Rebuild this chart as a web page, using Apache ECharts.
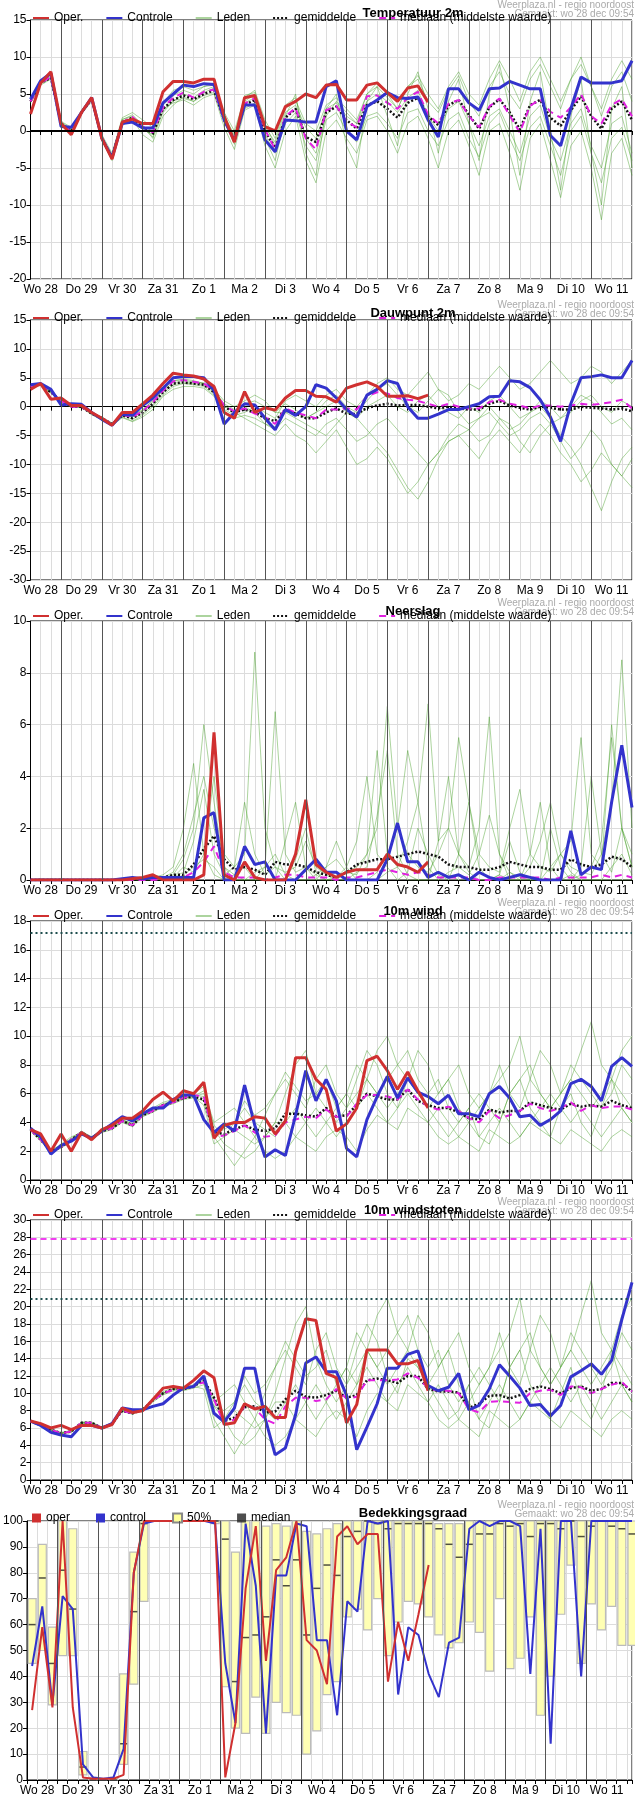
<!DOCTYPE html>
<html>
<head>
<meta charset="utf-8">
<script src="https://cdn.jsdelivr.net/npm/echarts@6/dist/echarts.min.js"></script>
<style>
  body { margin: 0; background: #fff; }
  .panel { position: absolute; left: 0; width: 635px; height: 300px; }
</style>
</head>
<body>
<div id="p1" class="panel" style="top:0px"></div>
<div id="p2" class="panel" style="top:300px"></div>
<div id="p3" class="panel" style="top:598px"></div>
<div id="p4" class="panel" style="top:898px"></div>
<div id="p5" class="panel" style="top:1197px"></div>
<div id="p6" class="panel" style="top:1500px"></div>
<script>
// tijd: uren vanaf wo 28 dec 00:00, elke 6 uur
let dayNames = ['Wo 28', 'Do 29', 'Vr 30', 'Za 31', 'Zo 1', 'Ma 2', 'Di 3', 'Wo 4', 'Do 5', 'Vr 6', 'Za 7', 'Zo 8', 'Ma 9', 'Di 10', 'Wo 11']

// temperatuur 2m
let tOper = [2.3,6.5,8.0,1.0,-0.5,2.5,4.5,-1.0,-3.8,1.2,1.6,1.0,1.0,5.3,6.7,6.7,6.5,7.0,7.0,2.0,-1.5,4.5,4.8,0.6,0.0,3.3,4.0,5.0,4.5,6.2,6.3,4.2,4.2,6.2,6.5,5.2,4.0,5.8,6.1,3.9]
let tCtrl = [4.3,6.8,7.8,0.6,0.5,2.5,4.5,-1.0,-3.6,1.0,1.2,0.4,0.4,3.8,5.0,6.2,6.0,6.4,6.3,1.5,-1.3,3.5,3.5,-1.2,-2.8,1.5,1.4,1.2,1.2,6.0,6.8,0.0,-1.2,3.3,4.2,5.2,4.5,4.4,4.6,1.5,-0.8,5.7,5.7,3.8,2.8,5.7,5.8,6.7,6.2,5.7,5.7,-0.6,-2.0,3.0,7.3,6.5,6.5,6.5,6.8,9.5]
let tMean = [4,6.5,7.2,1,0,2.5,4.3,-1,-3.5,1.2,1.8,0.5,-0.3,3,4.2,4.8,4.3,5,5.5,1.5,-1.2,3.5,4.2,0,-2.3,1.8,3.0,-0.8,-1.5,2.5,3.3,1.5,0.3,3.5,4.0,3.0,1.8,3.8,4.5,2.0,0.8,3.5,4.2,2.2,0.3,3.2,4.3,2.5,0.2,3.5,4.2,1.8,0.7,2.8,4.7,2.0,0.3,3.0,4.0,1.5]
let tMed = [4,6.5,7.3,1,0,2.5,4.3,-1,-3.5,1.2,1.9,0.6,-0.2,3.2,4.5,5.2,4.5,5.3,5.6,1.4,-1.4,3.7,4.4,0.2,-2.5,2.0,3.1,-1.0,-2.5,2.8,3.4,1.3,0.5,4.7,4.8,3.8,3.0,4.5,5.3,2.2,1.0,3.7,4.2,2.0,0.5,3.3,4.4,2.1,-0.2,3.4,4.3,2.6,1.8,3.2,5.0,2.0,1.0,3.5,4.3,2.0]
let tLeden = [
  [4,6.8,7.5,1.2,0.3,2.8,4.6,-0.8,-3.4,1.5,2.2,0.8,-1,2.5,4,5,4.5,5.5,6,2,-0.5,4,5,-1,-4,2,5,-3,-6,3,5,-2,-5,4,6,2,-2,5,8,3,-3,4,7,1,-4,5,9,3,-6,4,8,0,-8,2,7,-3,-10,3,6,-5],
  [4.2,6.6,7.8,0.8,-0.2,2.4,4.4,-1.2,-3.8,0.8,1.5,0.2,-0.5,3.5,4.8,5.5,5,6,6.5,1.8,-1.5,3.8,4.5,0.5,-1.5,3,4.2,1,0,3.5,4.5,3,1.5,5,6.5,5,3,6,7,4,2.5,5.5,7.5,4,2,6,8,5,3,7,9,6,3,7,10,6,2,6,8,4],
  [3.8,6.2,7,1.3,0.5,2.6,4.2,-0.5,-3,1.8,2.5,1.5,0.5,3,3.8,4.2,3.5,4.5,5,0.5,-2.5,2.8,3.5,-2,-5,0,2,-4,-7,0,1.5,-1,-3,1.5,2,0,-3,1,2,-1,-5,0,1.5,-2,-6,0,1,-3,-8,-1,1,-4,-9,-2,0,-5,-12,-3,-1,-6],
  [4.1,6.9,7.3,1.1,0.2,2.5,4.5,-1,-3.6,1.3,1.6,-0.5,-1.5,2,3.5,4.6,4,5.2,5.8,2.5,0,4.5,5.5,1.5,-1,3.5,4.5,-1,-3,2,4,2.5,1,4,5,4,2.5,4.5,5.5,2,0,3,4,1,-2,2,3,0,-3,2,3.5,-1,-4,1,3,-2,-5,1,2,-3],
  [4,6.5,7.2,0.9,0,2.3,4,-1.3,-4,1,1.9,0.6,0,3.8,5.5,6,5.5,6,6.2,2.2,-0.8,4.8,5.2,1,-2,2.5,3.5,0.5,-1,3,3.8,2,1,5,6,4.5,3,6,7.5,5,3,6,8,5,3.5,7,9.5,7,4,8,10,7,4,7,9,6,3,7,9.5,7],
  [3.9,6.4,7.1,1,0.1,2.7,4.4,-0.9,-3.3,1.6,2,0.4,-0.8,2.8,4.1,4.4,4,4.8,5.2,1.2,-1.8,3,3.8,-0.5,-3,1,2.5,-2,-4,1.5,2.5,0,-1.5,2,2.5,1,-1,2.5,3,0,-2,1.5,2.5,-1,-3.5,1,2.5,-1,-4,0.5,2,-2,-6,0,2,-3,-7,-1,0.5,-4]
]

// dauwpunt 2m
let dOper = [3.0,4.0,1.3,1.5,0.2,0.2,-1.0,-2.0,-3.2,-1.0,-1.0,0.5,2.0,4.0,5.8,5.5,5.3,4.8,3.5,-1.0,-2.0,2.6,-1.0,-0.2,-0.6,1.5,2.8,2.8,1.8,1.7,0.8,3.2,3.8,4.3,3.5,1.8,1.8,1.9,1.4,2.0]
let dCtrl = [3.8,4.0,3.0,0.3,0.5,0.4,-1.0,-2.2,-3.2,-1.3,-1.5,0.2,1.5,3.2,5.0,5.2,5.2,5.0,2.8,-3.0,-1.0,0.5,0.3,-2.0,-4.0,-0.5,-1.5,0,3.8,3.2,1.5,-0.5,-1.8,2.0,3.0,4.5,4.0,0,-2.0,-2.0,-1.3,-0.5,-0.5,0,0.5,1.7,1.8,4.5,4.3,3.3,1.2,-1.8,-6.0,0.5,5.0,5.2,5.5,5.0,5.0,8.0]
let dMean = [3.5,3.8,2.5,1,0,0,-1.2,-2,-3,-1.5,-2,-1,0.5,2.5,4,4.2,4,3.8,2.5,0,-1,-0.5,-1,-2,-2.5,-0.5,-1.2,-2,-2,-1,-0.3,-1.2,-1.3,-0.2,0.2,0.5,0.2,0.3,0.3,0,-0.3,0,-0.3,-0.5,-0.5,0.5,1,0.2,-0.2,-0.5,0,-0.2,-0.5,-0.5,0,-0.2,-0.3,-0.5,-0.3,-0.8]
let dMed = [3.5,3.9,2.6,1,0,0,-1.1,-2,-3,-1.4,-1.8,-0.8,0.8,2.8,4.4,4.6,4.3,4,2.8,0.2,-0.8,-0.3,-1.2,-1.8,-3.0,-0.3,-1.0,-1.5,-2.0,-0.5,-0.5,-0.3,-0.5,1.8,2.5,2.3,1.5,1.2,1.0,0.5,0,0.5,0,-0.3,-0.3,0.8,1.2,0.5,0.2,-0.3,0.2,0.2,0,0.2,0.5,0.3,0.5,0.8,1.2,-0.3]
let dLeden = [
  [3.6,3.9,2.6,1.1,0.2,0.1,-1,-2,-3,-1.2,-1.5,-0.5,1,3,4.5,4.8,4.5,4,2.8,0.5,-0.5,0,-1,-3,-4,-2,-3,-4,-5,-3,-2,-4,-6,-5,-3,-2,-4,-6,-8,-10,-8,-5,-3,-4,-6,-5,-2,-3,-6,-8,-5,-3,-6,-9,-7,-4,-6,-10,-12,-9],
  [3.4,3.7,2.4,0.9,0,-0.2,-1.3,-2.2,-3.2,-1.8,-2.5,-1.5,0,2,3.5,4,3.8,3.5,2,-0.5,-1.5,-1,0,-1,-2,1,2,1,0,2,3,1,0,2,4,5,3,2,4,6,3,1,2,4,3,5,7,5,3,4,6,8,6,4,5,7,6,4,6,8],
  [3.5,3.8,2.5,1,0,0,-1.1,-2,-3,-1.4,-2.2,-1.2,0.3,2.4,3.8,4.1,4,3.8,2.4,0.2,-1,-2,-3,-4,-5,-3,-5,-6,-8,-6,-4,-7,-10,-9,-7,-9,-12,-15,-13,-10,-8,-6,-5,-7,-9,-6,-4,-6,-8,-5,-3,-5,-8,-10,-13,-11,-8,-10,-12,-14],
  [3.5,3.8,2.5,1,0,0,-1.2,-2,-3,-1.6,-1.8,-0.8,0.8,2.8,4.2,4.3,4.2,4,2.6,0,-0.8,0.5,1,0,-1,0.5,-0.5,-2,-1,0,1,-1,-2,0,1,2,0,-1,1,2,0,-1,-2,0,-1,1,2,0,-2,-1,1,0,-2,-1,1,2,0,-1,1,0],
  [3.6,3.9,2.7,1.2,0.3,0.2,-1,-1.8,-2.8,-1.3,-1.7,-0.6,1.2,3.2,4.5,4.6,4.3,4.1,3,1,0,1,2,1,-1,-1,-2,-3,-4,-5,-3,-1,-2,-4,-6,-8,-11,-14,-16,-13,-9,-6,-5,-4,-2,-1,-3,-5,-4,-2,-1,-3,-2,0,2,1,-1,-3,-2,-4],
  [3.4,3.7,2.3,0.8,-0.1,-0.1,-1.4,-2.3,-3.3,-1.9,-2.6,-1.8,-0.5,1.8,3,3.5,3.5,3.2,1.8,-0.8,-2,-1.5,-2,-3,-3.5,-1,-1,-2,-1,1,2,0,-1,1,3,4,2,0,-1,1,3,2,-1,-3,-2,0,-2,-4,-3,-1,0,-2,-5,-7,-10,-14,-18,-13,-9,-7]
]

// neerslag
let pOper = [0,0,0,0,0,0,0,0,0,0,0.05,0.1,0.2,0,0,0,0,0.2,5.7,0.2,0,0.7,0.1,0,0,0,1.0,3.1,0.6,0.3,0.1,0.3,0.4,0.4,0.4,1.0,0.6,0.5,0.3,0.7]
let pCtrl = [0,0,0,0,0,0,0,0,0,0.05,0.1,0.05,0.1,0.1,0.1,0.1,0.1,2.4,2.6,0,0,1.3,0.6,0.7,0,0,0,0.4,0.8,0.3,0.3,0,0,0,0,0.8,2.2,0.7,0.7,0.1,0.3,0.1,0.2,0,0.3,0.1,0,0.1,0.2,0.1,0,0,0,1.9,0.2,0.5,0.4,3.0,5.2,2.8]
let pMean = [0,0,0,0,0,0,0,0,0,0,0,0.05,0.1,0.1,0.2,0.2,0.6,1.2,1.7,0.8,0.4,0.5,0.4,0.2,0.7,0.6,0.6,0.5,0.3,0.2,0.1,0.3,0.6,0.7,0.8,0.8,0.9,1.0,1.1,1.0,0.9,0.6,0.5,0.5,0.4,0.4,0.5,0.7,0.6,0.5,0.5,0.4,0.4,0.8,0.6,0.5,0.6,0.9,0.8,0.5]
let pMed = [0,0,0,0,0,0,0,0,0,0,0,0,0,0.05,0.1,0.1,0.3,0.7,1.3,0.3,0.1,0.1,0.1,0,0.1,0.2,0.2,0.1,0.1,0.1,0,0.1,0.1,0.2,0.3,0.4,0.3,0.2,0.3,0.2,0.1,0.1,0.1,0.1,0,0,0.1,0.1,0.1,0.1,0.1,0,0.1,0.1,0.1,0.1,0.2,0.1,0.2,0.1]
let pLeden = [
  [0,0,0.05,0,0,0,0,0,0,0,0.05,0.1,0.2,0.1,0.1,0.3,1.5,3.5,1,0.2,0.5,3,1,0.2,0.5,0,0.8,2,0.3,0,0.1,0.5,1.5,4,1,0.5,0,0.3,2,1,0.2,0,1,3,0.5,0,0.2,1.5,0.3,0,0,2,0.5,0,0.5,4,1,0.3,2,0.5],
  [0,0.05,0,0,0,0,0,0,0,0,0,0.1,0.1,0.2,0.5,2,4.5,1,0.2,0,0.2,0.5,0,0,0,1.5,3,0.5,0,0,0,0,0.3,0.5,2.5,5,1,0.2,0,0,1.5,4,1,0.3,0,0,0.2,0,0,1,3,0.5,0,0,0.2,0.5,1.5,5.5,2,0.5],
  [0,0,0,0,0,0,0,0,0,0,0,0,0,0.1,0.2,0.8,2,6,3,0.5,0,0,0,0.5,1,0.2,0,0,0,0.5,1.5,0.5,0,0,0.3,1,2,5,3,0.5,0,0.3,0.5,0.2,1,2.5,1,0,0,0,0,0.5,1,0.3,0,0,0,0.5,1,0.2],
  [0,0,0,0,0,0,0,0,0,0,0,0,0,0,0,0.2,0.5,0.8,0.5,0,0,0,0,0,0,0,0,0,0.2,0,0,0,0,0,0,0.3,0.5,0,0,0,0,0.2,0,0,0,0,0,0.3,0.1,0,0,0,0,0.2,0,0,0,0,0,0],
  [0,0,0,0.05,0,0,0,0,0,0,0,0,0.05,0.1,0.3,1,2.5,4,2,1,0.5,1,8.8,2,0.5,0.3,0.5,1.5,0.5,0.2,0,0.3,0.5,1,2,6.7,2,1,0.5,0.3,1,2,1,0.5,2,6.3,1,0.3,0,0.5,1.5,3,1,0.5,0.3,0.2,1,3,8.5,2],
  [0,0,0,0,0,0,0,0,0,0,0,0,0.1,0,0.1,0.5,0.3,1,4,0.5,0.2,0,0.3,0.5,6.5,1,0.3,0.5,0.2,0.5,0.8,0.3,0.2,1,5,1,0.5,1.5,3,6.8,1.5,2,5.5,3,1,0.5,0.3,2,3.5,1,0.5,0.3,1,1.5,5.5,1,0.5,6,2,1]
]

// 10m wind
let wOper = [3.5,3.2,2.0,3.2,2.0,3.3,2.8,3.5,3.8,4.3,4.3,4.8,5.6,6.1,5.5,6.2,6.0,6.8,2.9,3.8,4.0,4.0,4.4,4.3,3.2,4.1,8.5,8.5,7.0,6.3,3.4,3.9,5.0,8.3,8.6,7.6,6.3,7.5,6.2,5.0]
let wCtrl = [3.6,3.0,1.8,2.4,2.7,3.2,2.9,3.4,3.9,4.4,4.1,4.6,5.0,5.0,5.6,5.9,5.9,4.2,3.3,3.9,3.4,6.6,3.8,1.6,2.1,1.7,4.5,7.6,5.5,7.0,5.5,2.2,1.6,4.2,5.8,7.2,5.7,7.1,6.1,5.8,5.3,5.9,4.6,4.6,4.4,6.0,6.5,5.7,4.4,4.5,3.8,4.2,4.8,6.7,7.0,6.5,5.5,7.9,8.5,7.9]
let wMean = [3.5,2.8,2.0,2.3,2.8,3.3,2.9,3.4,3.6,4.1,3.8,4.5,4.8,5.2,5.4,5.7,5.8,5.6,3.3,3.2,3.5,3.8,3.5,3.4,3.6,4.6,4.6,4.5,4.4,5.0,4.4,4.5,5.2,6.0,5.8,5.6,5.6,6.3,5.5,5.2,5.0,5.0,4.7,4.3,4.2,4.9,4.7,4.8,4.8,5.4,5.2,5.0,4.9,5.3,5.1,5.2,5.1,5.5,5.2,5.0]
let wMed = [3.5,2.8,2.0,2.3,2.8,3.3,2.9,3.4,3.6,4.1,3.8,4.5,4.8,5.2,5.4,5.7,5.9,5.8,3.0,3.1,3.4,3.8,3.3,3.0,3.1,4.0,4.2,4.4,4.3,4.9,4.4,4.4,5.3,5.9,5.9,5.8,5.6,6.3,5.6,5.1,4.9,5.1,4.8,4.3,4.0,4.8,4.3,4.5,4.8,5.3,5.0,4.8,5.0,5.4,4.8,5.2,5.0,5.1,5.1,4.9]
let wLeden = [
  [3.5,2.8,2,2.5,3,3.3,3,3.5,3.8,4.2,3.9,4.6,5,5.4,5.6,5.9,6,6.5,3.5,2.5,2,1.5,2,3,4,6,8,9,6,5,4,5,7,9,8,6,5,7,6,5,4,3,4,5,3,2.5,4,6,7,5,4,3,5,6,4,3,5,7,5,4],
  [3.4,2.7,1.9,2.2,2.7,3.2,2.8,3.3,3.5,4,3.7,4.4,4.7,5.1,5.3,5.6,5.7,5.5,3.2,3.5,4,5,4,3.5,3,4,5,4,3,4,5,6,5,7,6,5,6,7,6,5,6,7,5,4,5,6,7,8,10,7,6,5,6,8,7,6,5,6,8,7],
  [3.6,2.9,2.1,2.4,2.9,3.4,3,3.5,3.7,4.2,3.9,4.6,4.9,5.3,5.5,5.8,5.9,5.8,3,2,1,2,3,2,1.5,2,3,2.5,2,3,3.5,3,2,3.5,4.5,4,3.5,5,4.5,4,3,2.5,3,2.5,2,3.5,3,2.5,3,4,3.5,3,2.5,3.5,3,2.5,2,3,3.5,3],
  [3.5,2.8,2,2.3,2.8,3.3,2.9,3.4,3.6,4.1,3.8,4.5,4.8,5.2,5.4,5.7,5.8,6.2,4,4.5,5,4,3,4.5,6,7,6,5,7,8,6,5,6,7,9,10,8,7,9,8,6,7,8,6,5,6,8,6,5,7,9,8,6,7,9,11,8,7,9,10],
  [3.5,2.8,2,2.3,2.8,3.3,2.9,3.4,3.6,4.1,3.8,4.5,4.8,5.2,5.4,5.7,5.8,5.2,2.5,3,3.5,3,2.5,3,4,4,3,4,5,4,3,4,5,6,5,4,5,6,5,4,5,4,3,4,3,4,5,4,3,4,5,6,5,4,5,4,3,4,5,4],
  [3.5,2.8,2,2.3,2.8,3.3,2.9,3.4,3.6,4.1,3.8,4.5,4.8,5.2,5.4,5.7,5.8,6,3.8,3,4,5.5,4.5,5,6,7.5,6.5,5.5,6,7,5,6,8,7,6,7,8,9,7,6,7,5,4,5,6,5,4,6,7,8,6,5,6,7,6,5,6,7,6,5]
]

// 10m windstoten
let gOper = [6.8,6.5,6.0,6.3,5.8,6.3,6.3,6.0,6.4,8.3,7.8,8.0,9.3,10.6,10.8,10.6,11.5,12.6,11.8,6.4,6.6,8.8,8.2,8.5,7.2,7.2,14.8,18.6,18.4,12.3,11.8,6.6,8.7,15.0,15.0,15.0,13.4,13.4,13.8,10.3]
let gCtrl = [6.8,6.3,5.5,5.2,5.0,6.3,6.3,6.0,6.5,8.3,8.1,8.1,8.5,8.8,9.8,10.6,10.8,12.0,7.7,6.7,8.3,12.9,12.9,7.2,2.9,3.7,7.5,13.5,14.2,12.5,12.5,9.8,3.5,6.1,8.8,12.9,12.9,14.5,14.9,10.9,10.3,10.7,12.3,8.1,8.6,10.5,13.3,12.0,10.6,8.6,8.7,7.4,8.6,11.9,12.6,13.4,12.2,13.8,18.5,22.8]
let gMean = [6.8,6.3,5.8,5.4,5.6,6.6,6.6,6.0,6.5,8.0,7.7,8.1,9.2,10.0,10.5,10.5,10.8,11.5,9.5,6.8,7.2,8.4,8.5,7.8,7.9,9.3,10.3,9.6,9.5,9.8,10.3,9.5,9.8,11.5,11.7,11.5,11.2,12.0,12.0,10.5,10.2,10.2,10.1,8.3,8.8,9.7,9.8,9.4,9.8,10.5,10.8,10.5,10.0,10.6,10.8,10.3,10.5,11.2,11.2,10.2]
let gMed = [6.8,6.3,5.8,5.4,5.6,6.6,6.6,6.0,6.5,8.0,7.7,8.1,9.2,10.0,10.4,10.5,10.8,11.3,9.3,6.4,7.0,8.5,8.3,7.0,6.5,8.5,9.5,9.5,9.1,9.3,10.5,9.4,9.6,11.5,11.5,11.5,11.6,12.3,11.8,10.6,10.3,10.3,10.0,8.2,7.8,9.0,9.1,9.0,8.9,10.0,10.3,10.4,9.8,10.8,10.7,10.0,10.5,11.0,11.3,10.2]
let gLeden = [
  [6.8,6.3,5.8,5.4,5.6,6.6,6.6,6,6.5,8,7.7,8.1,9.2,10,10.5,10.5,10.8,11.5,9.5,7,5,4,5,7,10,14,18,20,14,11,9,11,15,18,16,12,10,14,13,11,9,7,8,11,7,6,9,13,15,11,9,7,10,13,9,7,10,15,11,9],
  [6.7,6.2,5.7,5.3,5.5,6.5,6.5,5.9,6.4,7.9,7.6,8,9,9.8,10.3,10.3,10.6,11,8.5,8,9,11,9,8,7,9,11,9,7,9,11,13,11,15,13,11,13,15,13,11,13,15,11,9,11,13,15,17,21,15,13,11,13,17,15,13,11,13,17,15],
  [6.9,6.4,5.9,5.5,5.7,6.7,6.7,6.1,6.6,8.1,7.8,8.2,9.3,10.2,10.7,10.7,11,11.2,7,5,3,5,7,5,4,5,7,6,5,7,8,7,5,8,10,9,8,11,10,9,7,6,7,6,5,8,7,6,7,9,8,7,6,8,7,6,5,7,8,7],
  [6.8,6.3,5.8,5.4,5.6,6.6,6.6,6,6.5,8,7.7,8.1,9.2,10,10.5,10.5,10.8,12,9,10,11,9,7,10,13,15,13,11,15,17,13,11,13,15,19,21,17,15,19,17,13,15,17,13,11,13,17,13,11,15,19,17,13,15,19,23,17,15,19,21],
  [6.8,6.3,5.8,5.4,5.6,6.6,6.6,6,6.5,8,7.7,8.1,9.2,10,10.5,10.5,10.8,10.5,6,7,8,7,6,7,9,9,7,9,11,9,7,9,11,13,11,9,11,13,11,9,11,9,7,9,7,9,11,9,7,9,11,13,11,9,11,9,7,9,11,9],
  [6.8,6.3,5.8,5.4,5.6,6.6,6.6,6,6.5,8,7.7,8.1,9.2,10,10.5,10.5,10.8,11.8,8.5,7,9,12,10,11,13,16,14,12,13,15,11,13,17,15,13,15,17,19,15,13,15,11,9,11,13,11,9,13,15,17,13,11,13,15,13,11,13,15,13,11]
]

// bedekkingsgraad (punten op 3, 9, 15 en 21 uur)
let cOper = [27,59,28,100,28,1,0.5,0.5,0.5,2,80,100,100,100,100,100,100,100,100,1,22,74,98,46,81,86,100,54,50,37,94,98,91,95,95,38,61,46,64,83]
let cCtrl = [44,67,29,71,66,6,1,0.5,1,12,80,99,100,100,100,100,100,100,99,45,22,99,75,18,79,79,99,98,54,54,25,69,65,100,99,100,33,59,56,41,32,53,55,97,100,98,100,100,98,41,97,14,100,100,40,100,100,100,100,100]
let cLow = [45,50,29,48,48,2,0,0,0,6,37,69,100,100,100,100,100,100,99,36,20,18,32,18,30,26,25,10,19,33,38,63,66,58,70,48,61,69,68,63,56,51,53,61,57,42,70,43,47,63,25,40,64,83,45,68,58,67,52,52]
let cHigh = [70,91,59,100,97,11,1,0,1,41,88,100,100,100,100,100,100,100,100,100,88,100,100,98,99,98,100,96,95,97,99,100,100,100,100,100,100,100,100,100,99,99,99,100,100,100,100,100,100,100,100,100,100,100,100,100,100,100,100,100]
let cMed = [60,78,45,81,66,5,0,0,0,14,65,99,100,100,100,100,100,100,100,93,38,55,56,63,85,75,85,56,74,83,79,94,96,100,99,97,99,99,99,99,97,91,86,91,95,95,99,98,99,94,99,99,97,100,94,98,100,98,97,95]

let green = 'rgba(70,160,40,0.45)'
let fontFam = 'Liberation Sans, Arial, sans-serif'

function toPairs(arr, start) {
  return arr.map((v, i) => [start + 6 * i, v])
}

function xAxisDef(maxH) {
  return {
    type: 'value', min: 6, max: maxH, interval: 6,
    axisLine: { lineStyle: { color: '#000' } },
    axisTick: { length: 4, lineStyle: { color: '#000' } },
    splitLine: { show: true, lineStyle: { color: '#dcdcdc' } },
    axisLabel: {
      color: '#000', fontSize: 12, fontFamily: fontFam, margin: 5,
      formatter: v => (v % 24 === 12 ? dayNames[(v - 12) / 24] : '')
    }
  }
}

function yAxisDef(min, max, step) {
  return {
    type: 'value', min: min, max: max, interval: step,
    axisLine: { show: true, lineStyle: { color: '#000' } },
    axisTick: { show: true, length: 4, lineStyle: { color: '#000' } },
    splitLine: { lineStyle: { color: '#dcdcdc' } },
    axisLabel: { color: '#000', fontSize: 12, fontFamily: fontFam, margin: 4 }
  }
}

function dayLines() {
  let lines = []
  for (let h = 24; h <= 336; h += 24) lines.push({ xAxis: h })
  return lines
}

function headerGraphics(title) {
  return [
    { type: 'text', right: 1, top: 0, style: { text: 'Weerplaza.nl - regio noordoost', fill: '#aaa', font: '10px ' + fontFam } },
    { type: 'text', right: 1, top: 9, style: { text: 'Gemaakt: wo 28 dec 09:54', fill: '#aaa', font: '10px ' + fontFam } },
    { type: 'text', x: 413, y: 7, style: { text: title, fill: '#000', font: 'bold 13px ' + fontFam, align: 'center' } }
  ]
}

function lineSeries(name, data, color, width, type) {
  return { name: name, type: 'line', data: data, symbol: 'none', showSymbol: false,
    lineStyle: { color: color, width: width, type: type || 'solid' }, itemStyle: { color: color } }
}

function makePanel(id, cfg) {
  let chart = echarts.init(document.getElementById(id))
  let series = []
  cfg.leden.forEach(m => {
    let s = lineSeries('Leden', toPairs(m, 6), green, 1)
    s.silent = true
    series.push(s)
  })
  series.push(lineSeries('gemiddelde', toPairs(cfg.mean, 6), '#111', 2.5, [2, 2]))
  series.push(lineSeries('mediaan (middelste waarde)', toPairs(cfg.med, 6), '#e020e0', 2, [7, 5]))
  series.push(lineSeries('Controle', toPairs(cfg.ctrl, 6), '#3333cc', 3))
  series.push(lineSeries('Oper.', toPairs(cfg.oper, 6), '#d03030', 3))
  let marks = dayLines().map(d => Object.assign({ lineStyle: { color: '#555', width: 1, type: 'solid' } }, d))
  ;(cfg.hlines || []).forEach(l => marks.push({ yAxis: l.y, lineStyle: l.style }))
  series.push({ type: 'line', data: [], silent: true,
    markLine: { symbol: 'none', silent: true, label: { show: false }, animation: false, data: marks } })

  chart.setOption({
    animation: false,
    grid: { left: 30.5, right: 0, top: cfg.top, bottom: cfg.bottom, show: true, borderColor: '#000', borderWidth: 1 },
    legend: {
      left: 27, top: 7, itemWidth: 16, itemHeight: 8, itemGap: 22,
      itemStyle: { opacity: 0 },
      textStyle: { fontSize: 12, fontFamily: fontFam, color: '#000' },
      data: ['Oper.', 'Controle', 'Leden', 'gemiddelde', 'mediaan (middelste waarde)']
    },
    xAxis: xAxisDef(360),
    yAxis: yAxisDef(cfg.min, cfg.max, cfg.step),
    graphic: headerGraphics(cfg.title),
    series: series
  })
}

makePanel('p1', { title: 'Temperatuur 2m', oper: tOper, ctrl: tCtrl, mean: tMean, med: tMed, leden: tLeden,
  min: -20, max: 15, step: 5, top: 20, bottom: 21,
  hlines: [{ y: 0, style: { color: '#000', width: 2, type: 'solid' } }] })
makePanel('p2', { title: 'Dauwpunt 2m', oper: dOper, ctrl: dCtrl, mean: dMean, med: dMed, leden: dLeden,
  min: -30, max: 15, step: 5, top: 20, bottom: 20 })
makePanel('p3', { title: 'Neerslag', oper: pOper, ctrl: pCtrl, mean: pMean, med: pMed, leden: pLeden,
  min: 0, max: 10, step: 2, top: 23, bottom: 18 })
makePanel('p4', { title: '10m wind', oper: wOper, ctrl: wCtrl, mean: wMean, med: wMed, leden: wLeden,
  min: 0, max: 18, step: 2, top: 23, bottom: 18,
  hlines: [{ y: 17.2, style: { color: '#1f4f4f', width: 2, type: [2, 3] } }] })
makePanel('p5', { title: '10m windstoten', oper: gOper, ctrl: gCtrl, mean: gMean, med: gMed, leden: gLeden,
  min: 0, max: 30, step: 2, top: 23, bottom: 16,
  hlines: [{ y: 27.8, style: { color: '#f040f0', width: 2, type: [6, 4] } },
           { y: 20.9, style: { color: '#1f4f4f', width: 2, type: [2, 3] } }] })

// bedekkingsgraad
let cloudChart = echarts.init(document.getElementById('p6'))
let bandData = cLow.map((lo, k) => [9 + 6 * k, lo, cHigh[k]])
cloudChart.setOption({
  animation: false,
  grid: { left: 25.5, right: 0, top: 21, bottom: 20, show: true, borderColor: '#000', borderWidth: 1 },
  legend: {
    left: 27, top: 7, itemWidth: 9, itemHeight: 9, itemGap: 26, icon: 'rect',
    textStyle: { fontSize: 12, fontFamily: fontFam, color: '#000' },
    data: ['oper', 'control', '50%', 'median']
  },
  xAxis: xAxisDef(363),
  yAxis: yAxisDef(0, 100, 10),
  graphic: headerGraphics('Bedekkingsgraad'),
  series: [
    { name: '50%', type: 'custom', data: bandData, itemStyle: { color: '#ffff99', borderColor: '#888', borderWidth: 1 },
      renderItem: function (params, api) {
        let lo = api.coord([api.value(0), api.value(1)])
        let hi = api.coord([api.value(0), api.value(2)])
        return { type: 'rect', shape: { x: lo[0] - 4, y: hi[1], width: 8, height: lo[1] - hi[1] },
          style: { fill: '#ffffb4', stroke: '#bbbbbb', lineWidth: 1.2 } }
      } },
    { name: 'median', type: 'scatter', data: toPairs(cMed, 9), symbol: 'rect', symbolSize: [7, 1.5],
      itemStyle: { color: '#222' } },
    lineSeries('control', toPairs(cCtrl, 9), '#3333cc', 2),
    lineSeries('oper', toPairs(cOper, 9), '#d03030', 2),
    { type: 'line', data: [], silent: true,
      markLine: { symbol: 'none', silent: true, label: { show: false }, animation: false,
        data: dayLines().map(d => Object.assign({ lineStyle: { color: '#555', width: 1, type: 'solid' } }, d)) } }
  ]
})
</script>
</body>
</html>
